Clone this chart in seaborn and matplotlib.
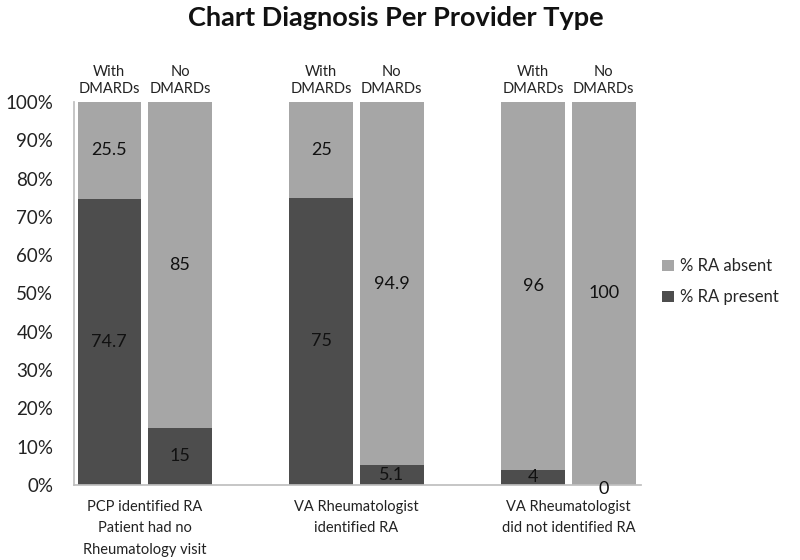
import matplotlib
matplotlib.use("Agg")
import matplotlib.pyplot as plt
import seaborn as sns
import pandas as pd
import numpy as np

groups = ["PCP identified RA\nPatient had no\nRheumatology visit",
          "VA Rheumatologist\nidentified RA",
          "VA Rheumatologist\ndid not identified RA"]
sub_labels = ["With\nDMARDs", "No\nDMARDs"] * 3
ra_present = [74.7, 15, 75, 5.1, 4, 0]
ra_absent = [25.5, 85, 25, 94.9, 96, 100]
present_labels = ["74.7", "15", "75", "5.1", "4", "0"]
absent_labels = ["25.5", "85", "25", "94.9", "96", "100"]
yticks = [0, 10, 20, 30, 40, 50, 60, 70, 80, 90, 100]

sns.set_theme(style="white")
plt.rcParams['font.family'] = ['Lato', 'DejaVu Sans']

pos = [0, 1, 3, 4, 6, 7]
df = pd.DataFrame({"pos": pos,
                   "present": ra_present,
                   "total": [p + a for p, a in zip(ra_present, ra_absent)]})

DARK = "#4d4d4d"
LIGHT = "#a6a6a6"

fig = plt.figure(figsize=(8, 5.6), dpi=100)
ax = fig.add_axes([0.0925, 0.134, 0.709, 0.684])

sns.barplot(data=df, x="pos", y="total", native_scale=True, width=0.9,
            color=LIGHT, saturation=1, ax=ax, label="% RA absent", linewidth=0)
sns.barplot(data=df, x="pos", y="present", native_scale=True, width=0.9,
            color=DARK, saturation=1, ax=ax, label="% RA present", linewidth=0)

ax.set_ylim(0, 100)
ax.set_xlim(-0.5, 7.53)
ax.set_yticks(yticks)
ax.set_yticklabels([f"{t}%" for t in yticks], fontsize=13.5, color="#222222")
ax.set_xticks([0.5, 3.5, 6.5])
ax.set_xticklabels(groups, fontsize=10.5, color="#222222", linespacing=1.65)
ax.tick_params(axis="y", length=0, pad=15)
ax.tick_params(axis="x", length=0, pad=11)
ax.set_xlabel("")
ax.set_ylabel("")
for s in ["top", "right"]:
    ax.spines[s].set_visible(False)
ax.spines["left"].set_color("#bfbfbf")
ax.spines["bottom"].set_color("#bfbfbf")

for i, p in enumerate(pos):
    pr = ra_present[i]
    ab = ra_absent[i]
    ax.text(p, pr + ab / 2 if pr + ab / 2 < 100 else 87.4, absent_labels[i],
            ha="center", va="center", fontsize=13, color="#111111")
    ax.text(p, pr / 2 if pr > 0 else -1.0, present_labels[i],
            ha="center", va="center", fontsize=13, color="#111111", clip_on=False)
    ax.text(p, 101.5, sub_labels[i], ha="center", va="bottom", fontsize=10.5,
            color="#222222", linespacing=1.3, clip_on=False)

handles, labels = ax.get_legend_handles_labels()
ax.legend(handles, labels, loc="center left", bbox_to_anchor=(1.01, 0.53),
          frameon=False, fontsize=12, handlelength=0.7, handleheight=0.7,
          handletextpad=0.4, labelspacing=0.9)

fig.text(0.495, 0.968, "Chart Diagnosis Per Provider Type", ha="center",
         va="center", fontsize=19.5, fontweight="bold", color="#111111")

fig.savefig("out.png", dpi=100)
